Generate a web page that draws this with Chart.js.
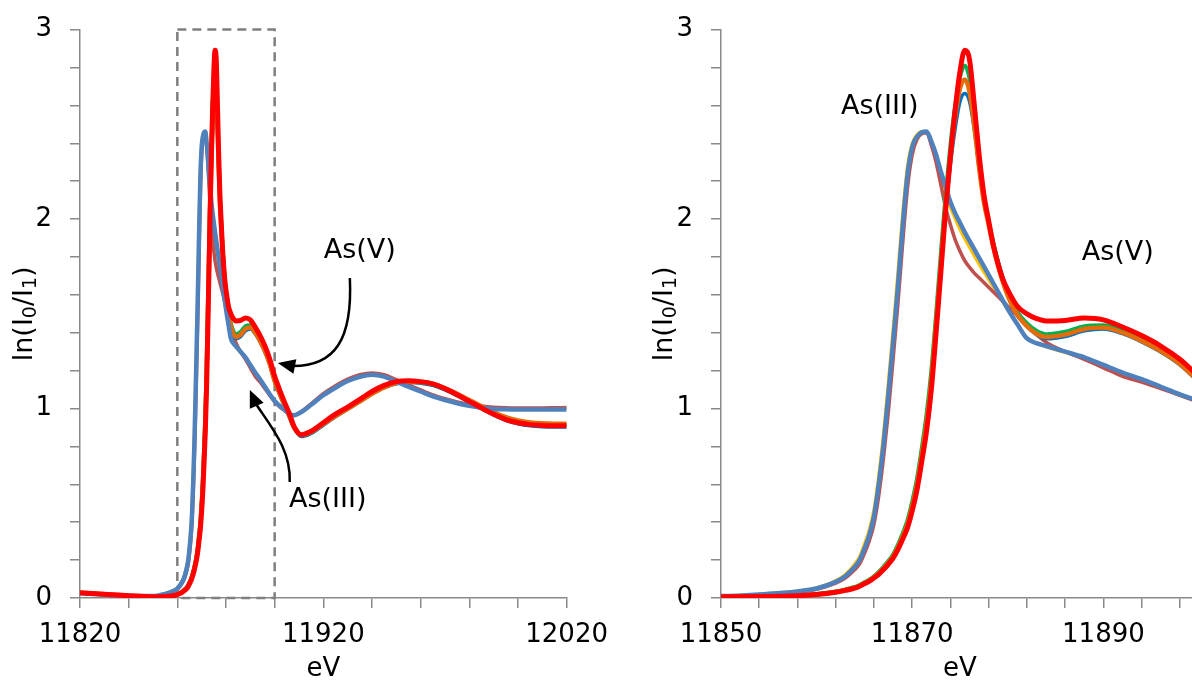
<!DOCTYPE html>
<html>
<head>
<meta charset="utf-8">
<title>As K-edge XANES</title>
<script src="https://cdn.jsdelivr.net/npm/chart.js@4.4.1/dist/chart.umd.min.js"></script>
<style>
  html, body { margin: 0; padding: 0; background: #fff; overflow: hidden; }
  body { width: 1192px; height: 693px; position: relative; }
  /* y tick padding pushes the plot top down; lift both canvases a little */
  .panel { position: absolute; top: -4px; height: 697px; }
  #wide { left: 0; width: 620px; }
  #edge { left: 640px; width: 560px; }
</style>
</head>
<body>
<div class="panel" id="wide"><canvas id="wideChart"></canvas></div>
<div class="panel" id="edge"><canvas id="edgeChart"></canvas></div>
<script>
// photon energy (eV), finer steps across the edge
const energyEv = [
  11820, 11830, 11840, 11850, 11855, 11858, 11860, 11862, 11863,
  11864, 11864.5, 11865, 11865.5, 11866, 11866.5, 11867, 11867.5, 11868, 11868.5, 11869, 11869.5,
  11870, 11870.5, 11871, 11871.5, 11872, 11872.5, 11873, 11873.5, 11874, 11874.5, 11875, 11875.5,
  11876, 11876.5, 11877, 11877.5, 11878, 11878.5, 11879, 11879.5, 11880,
  11881, 11882, 11883, 11884, 11886, 11888, 11890, 11892, 11894, 11896, 11898, 11900, 11902, 11904, 11906, 11908, 11911,
  11915, 11920, 11925, 11930, 11935, 11940, 11945, 11950, 11955, 11960, 11965, 11970, 11975, 11980, 11985, 11990, 11995,
  12000, 12005, 12010, 12015, 12020
];

// As(III) spectra, ln(I0/I1)
const asIIIBlue = [
  0.025, 0.018, 0.010, 0.010, 0.022, 0.035, 0.050, 0.085, 0.115,
  0.165, 0.20, 0.26, 0.33, 0.43, 0.60, 0.81, 1.07, 1.35, 1.64, 1.96, 2.23,
  2.38, 2.435, 2.458, 2.462, 2.41, 2.34, 2.25, 2.17, 2.09, 2.03, 1.98, 1.93,
  1.885, 1.84, 1.795, 1.75, 1.705, 1.66, 1.615, 1.57, 1.525,
  1.445, 1.37, 1.345, 1.33, 1.30, 1.27, 1.23, 1.19, 1.155, 1.115, 1.075, 1.04, 1.015, 0.995, 0.972, 0.965, 0.982,
  1.02, 1.07, 1.11, 1.145, 1.168, 1.178, 1.168, 1.142, 1.115, 1.09, 1.064, 1.045, 1.028, 1.014, 1.004, 0.998, 0.996,
  0.995, 0.995, 0.995, 0.995, 0.995
];
const asIIIRed = [
  0.027, 0.020, 0.012, 0.010, 0.020, 0.032, 0.046, 0.078, 0.105,
  0.15, 0.18, 0.235, 0.30, 0.39, 0.54, 0.74, 0.98, 1.26, 1.55, 1.87, 2.16,
  2.34, 2.42, 2.45, 2.455, 2.39, 2.30, 2.18, 2.06, 1.97, 1.89, 1.83, 1.78,
  1.745, 1.715, 1.69, 1.665, 1.64, 1.615, 1.59, 1.565, 1.54,
  1.49, 1.435, 1.39, 1.35, 1.30, 1.26, 1.215, 1.17, 1.14, 1.105, 1.07, 1.035, 1.01, 0.99, 0.97, 0.965, 0.985,
  1.025, 1.078, 1.12, 1.155, 1.178, 1.188, 1.178, 1.152, 1.125, 1.098, 1.072, 1.052, 1.035, 1.022, 1.013, 1.007, 1.004,
  1.003, 1.003, 1.003, 1.004, 1.005
];
const asIIIGold = [
  0.026, 0.018, 0.011, 0.011, 0.024, 0.038, 0.055, 0.092, 0.125,
  0.18, 0.22, 0.285, 0.36, 0.47, 0.65, 0.87, 1.14, 1.42, 1.72, 2.03, 2.28,
  2.40, 2.445, 2.462, 2.458, 2.40, 2.32, 2.23, 2.14, 2.06, 2.00, 1.945, 1.895,
  1.85, 1.805, 1.76, 1.72, 1.68, 1.64, 1.60, 1.56, 1.52,
  1.445, 1.375, 1.345, 1.325, 1.295, 1.265, 1.225, 1.185, 1.15, 1.11, 1.07, 1.035, 1.01, 0.99, 0.97, 0.963, 0.98,
  1.02, 1.072, 1.115, 1.15, 1.172, 1.182, 1.17, 1.145, 1.118, 1.092, 1.066, 1.046, 1.03, 1.016, 1.006, 1.0, 0.998,
  0.997, 0.997, 0.997, 0.997, 0.998
];

// As(V) spectra, ln(I0/I1)
const asVRed = [
  0.028, 0.020, 0.012, 0.007, 0.008, 0.012, 0.018, 0.030, 0.040,
  0.052, 0.062, 0.075, 0.088, 0.105, 0.125, 0.15, 0.178, 0.21, 0.255, 0.31, 0.37,
  0.46, 0.57, 0.72, 0.88, 1.10, 1.40, 1.72, 2.05, 2.33, 2.58, 2.78, 2.891,
  2.84, 2.60, 2.34, 2.13, 1.99, 1.86, 1.76, 1.68, 1.625,
  1.54, 1.50, 1.475, 1.462, 1.465, 1.478, 1.468, 1.43, 1.385, 1.33, 1.26, 1.17, 1.10, 1.035, 0.975, 0.905, 0.862,
  0.88, 0.925, 0.97, 1.008, 1.048, 1.09, 1.122, 1.142, 1.147, 1.142, 1.13, 1.105, 1.073, 1.038, 1.003, 0.97, 0.942,
  0.925, 0.915, 0.911, 0.909, 0.909
];
const asVGreen = [
  0.027, 0.019, 0.011, 0.007, 0.009, 0.014, 0.021, 0.034, 0.045,
  0.058, 0.069, 0.083, 0.097, 0.115, 0.138, 0.165, 0.195, 0.23, 0.28, 0.34, 0.41,
  0.51, 0.63, 0.79, 0.97, 1.20, 1.50, 1.82, 2.13, 2.39, 2.60, 2.75, 2.81,
  2.74, 2.54, 2.31, 2.12, 1.99, 1.87, 1.77, 1.68, 1.61,
  1.51, 1.45, 1.41, 1.392, 1.405, 1.435, 1.44, 1.41, 1.365, 1.31, 1.24, 1.15, 1.085, 1.025, 0.965, 0.905, 0.862,
  0.878, 0.922, 0.966, 1.004, 1.044, 1.085, 1.118, 1.138, 1.144, 1.14, 1.128, 1.103, 1.072, 1.038, 1.005, 0.973, 0.946,
  0.929, 0.919, 0.915, 0.913, 0.913
];
const asVOrange = [
  0.028, 0.020, 0.012, 0.008, 0.009, 0.013, 0.019, 0.032, 0.043,
  0.055, 0.065, 0.079, 0.092, 0.11, 0.131, 0.157, 0.186, 0.22, 0.268, 0.325, 0.39,
  0.485, 0.60, 0.755, 0.925, 1.15, 1.45, 1.76, 2.07, 2.33, 2.54, 2.69, 2.737,
  2.67, 2.49, 2.27, 2.09, 1.97, 1.85, 1.75, 1.665, 1.595,
  1.495, 1.435, 1.395, 1.378, 1.39, 1.42, 1.428, 1.40, 1.357, 1.303, 1.235, 1.145, 1.08, 1.02, 0.96, 0.90, 0.86,
  0.876, 0.918, 0.96, 0.998, 1.038, 1.078, 1.112, 1.134, 1.142, 1.14, 1.13, 1.107, 1.078, 1.045, 1.012, 0.98, 0.954,
  0.937, 0.927, 0.922, 0.92, 0.92
];
const asVBlue = [
  0.027, 0.019, 0.011, 0.007, 0.009, 0.013, 0.020, 0.033, 0.044,
  0.056, 0.067, 0.081, 0.095, 0.112, 0.135, 0.161, 0.19, 0.225, 0.274, 0.333, 0.40,
  0.50, 0.615, 0.77, 0.945, 1.17, 1.46, 1.76, 2.05, 2.29, 2.48, 2.62, 2.663,
  2.62, 2.47, 2.27, 2.10, 1.985, 1.87, 1.775, 1.69, 1.615,
  1.505, 1.435, 1.39, 1.368, 1.38, 1.41, 1.42, 1.395, 1.352, 1.298, 1.23, 1.14, 1.075, 1.015, 0.955, 0.895, 0.852,
  0.868, 0.912, 0.956, 0.996, 1.036, 1.077, 1.11, 1.13, 1.137, 1.134, 1.122, 1.098, 1.068, 1.034, 1.0, 0.966, 0.938,
  0.92, 0.909, 0.904, 0.902, 0.902
];

// axis ticks and which of them carry a label
const wideTicks = [11820, 11840, 11860, 11880, 11900, 11920, 11940, 11960, 11980, 12000, 12020];
const wideLabels = [11820, 11920, 12020];
const edgeTicks = [11850, 11854, 11858, 11862, 11866, 11870, 11874, 11878, 11882, 11886, 11890, 11894, 11898];
const edgeLabels = [11850, 11870, 11890];
const yTicks = [0, 0.2, 0.4, 0.6, 0.8, 1, 1.2, 1.4, 1.6, 1.8, 2, 2.2, 2.4, 2.6, 2.8, 3];
const yLabels = [0, 1, 2, 3];

const AXIS = '#898989';
const FONT = "'DejaVu Sans', sans-serif";
Chart.defaults.font.family = FONT;
Chart.defaults.font.size = 26;
Chart.defaults.color = '#000';

// drawn top-most first
const seriesStyle = [
  { data: asVRed, color: '#FF0000', width: 5 },
  { data: asIIIBlue, color: '#4F81BD', width: 4.5 },
  { data: asVOrange, color: '#E46C0A', width: 4.5 },
  { data: asVGreen, color: '#00B050', width: 4 },
  { data: asVBlue, color: '#0070C0', width: 3.5 },
  { data: asIIIRed, color: '#C0504D', width: 3.5 },
  { data: asIIIGold, color: '#FFC000', width: 3 },
];

function makeDatasets() {
  return seriesStyle.map(s => ({
    data: energyEv.map((e, i) => ({ x: e, y: s.data[i] })),
    borderColor: s.color,
    borderWidth: s.width,
    pointRadius: 0,
    fill: false,
    cubicInterpolationMode: 'monotone',
  }));
}

function arrowHead(ctx, fx, fy, tx, ty, len, half) {
  const a = Math.atan2(ty - fy, tx - fx);
  ctx.beginPath();
  ctx.moveTo(tx, ty);
  ctx.lineTo(tx - len * Math.cos(a) + half * Math.sin(a), ty - len * Math.sin(a) - half * Math.cos(a));
  ctx.lineTo(tx - len * Math.cos(a) - half * Math.sin(a), ty - len * Math.sin(a) + half * Math.cos(a));
  ctx.closePath();
  ctx.fill();
}

// rotated y title with real subscripts: ln(I0/I1)
function drawYTitle(ctx, cx, cy) {
  const parts = [['ln(I', false], ['0', true], ['/I', false], ['1', true], [')', false]];
  const big = '27px ' + FONT, small = '19px ' + FONT;
  let total = 0;
  parts.forEach(([t, sub]) => { ctx.font = sub ? small : big; total += ctx.measureText(t).width; });
  ctx.save();
  ctx.translate(cx, cy);
  ctx.rotate(-Math.PI / 2);
  ctx.fillStyle = '#000';
  ctx.textBaseline = 'alphabetic';
  ctx.textAlign = 'left';
  let px = -total / 2;
  parts.forEach(([t, sub]) => {
    ctx.font = sub ? small : big;
    ctx.fillText(t, px, sub ? 14 : 10);
    px += ctx.measureText(t).width;
  });
  ctx.restore();
}

// dashed zoom box, curved arrows and the As(III)/As(V) labels
const notesPlugin = {
  id: 'notes',
  beforeDatasetsDraw(chart, args, opts) {
    if (!opts.box) return;
    const { ctx, scales: { x, y } } = chart;
    const b = opts.box;
    const x0 = x.getPixelForValue(b.x0), x1 = x.getPixelForValue(b.x1);
    const y0 = y.getPixelForValue(b.y0), y1 = y.getPixelForValue(b.y1);
    ctx.save();
    ctx.strokeStyle = '#7F7F7F';
    ctx.lineWidth = 2.5;
    ctx.setLineDash([9, 6]);
    ctx.strokeRect(x0, y1, x1 - x0, y0 - y1);
    ctx.restore();
  },
  afterDatasetsDraw(chart, args, opts) {
    const { ctx, chartArea, scales: { x, y } } = chart;
    const p = (pt) => [x.getPixelForValue(pt[0]), y.getPixelForValue(pt[1])];
    ctx.save();
    ctx.strokeStyle = '#000';
    ctx.fillStyle = '#000';
    ctx.lineWidth = 2.5;
    (opts.arrows || []).forEach(a => {
      const [sx, sy] = p(a.from), [c1x, c1y] = p(a.c1), [c2x, c2y] = p(a.c2);
      const [ex, ey] = p(a.to), [tx, ty] = p(a.tip);
      ctx.beginPath();
      ctx.moveTo(sx, sy);
      ctx.bezierCurveTo(c1x, c1y, c2x, c2y, ex, ey);
      ctx.stroke();
      arrowHead(ctx, ex, ey, tx, ty, Math.hypot(tx - ex, ty - ey) + 2, 7.5);
    });
    ctx.font = '27px ' + FONT;
    ctx.textAlign = 'center';
    ctx.textBaseline = 'middle';
    (opts.labels || []).forEach(l => {
      const [lx, ly] = p(l.at);
      ctx.fillText(l.text, lx, ly);
    });
    ctx.restore();
    drawYTitle(ctx, y.left + 22, (chartArea.top + chartArea.bottom) / 2);
  }
};

function axisX(min, max, ticks, labels) {
  return {
    type: 'linear',
    min: min,
    max: max,
    afterBuildTicks: s => { s.ticks = ticks.map(v => ({ value: v })); },
    afterFit: s => { s.height = 95; },
    ticks: {
      autoSkip: false,
      maxRotation: 0,
      minRotation: 0,
      padding: 12,
      callback: v => labels.includes(v) ? String(v) : '',
    },
    grid: { drawOnChartArea: false, drawTicks: true, tickLength: 10, color: AXIS, lineWidth: 1.5 },
    border: { color: AXIS, width: 1.5 },
    title: { display: true, text: 'eV', padding: { top: 0, bottom: 8 } },
  };
}

function axisY(width) {
  return {
    type: 'linear',
    min: 0,
    max: 3,
    afterBuildTicks: s => { s.ticks = yTicks.map(v => ({ value: v })); },
    afterFit: s => { s.width = width; },
    ticks: {
      autoSkip: false,
      padding: 18,
      callback: v => yLabels.some(t => Math.abs(t - v) < 1e-9) ? String(Math.round(v)) : '',
    },
    grid: { drawOnChartArea: false, drawTicks: true, tickLength: 10, color: AXIS, lineWidth: 1.5 },
    border: { color: AXIS, width: 1.5 },
  };
}

function baseOptions(padRight, xAxis, yAxis, notes) {
  return {
    responsive: true,
    maintainAspectRatio: false,
    animation: false,
    layout: { padding: { top: 0, right: padRight, bottom: 0, left: 0 } },
    scales: { x: xAxis, y: yAxis },
    plugins: {
      legend: { display: false },
      tooltip: { enabled: false },
      notes: notes,
    },
  };
}

new Chart(document.getElementById('wideChart'), {
  type: 'line',
  data: { datasets: makeDatasets() },
  options: baseOptions(53, axisX(11820, 12020, wideTicks, wideLabels), axisY(80), {
    box: { x0: 11860, x1: 11900, y0: 0, y1: 3 },
    arrows: [
      { from: [11930.9, 1.689], c1: [11932.1, 1.362], c2: [11924.7, 1.224], to: [11907.5, 1.224], tip: [11901.3, 1.240] },
      { from: [11906.2, 0.612], c1: [11906.7, 0.781], c2: [11898.9, 0.897], to: [11892.3, 1.024], tip: [11889.8, 1.098] },
    ],
    labels: [
      { text: 'As(V)', at: [11935.0, 1.832] },
      { text: 'As(III)', at: [11921.8, 0.517] },
    ],
  }),
  plugins: [notesPlugin],
});

new Chart(document.getElementById('edgeChart'), {
  type: 'line',
  data: { datasets: makeDatasets() },
  options: baseOptions(1, axisX(11850, 11900, edgeTicks, edgeLabels), axisY(81), {
    labels: [
      { text: 'As(III)', at: [11866.6, 2.591] },
      { text: 'As(V)', at: [11891.5, 1.821] },
    ],
  }),
  plugins: [notesPlugin],
});
</script>
</body>
</html>
